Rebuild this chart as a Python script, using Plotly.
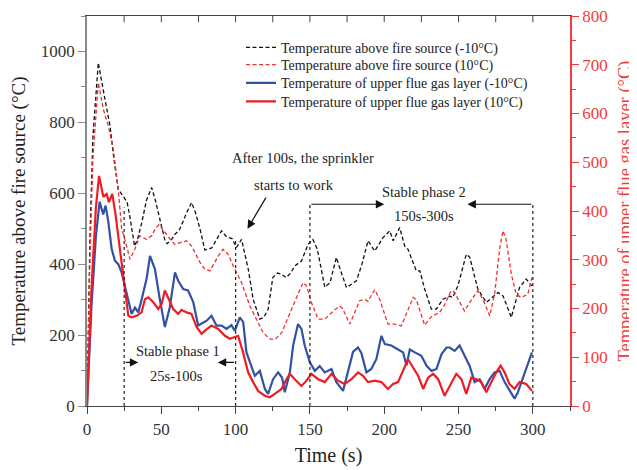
import plotly.graph_objects as go

# ---------------- data ----------------
# Temperature above fire source (-10°C), left axis (°C)
t_above_m10 = [0, 2, 4, 7.6, 12.1, 15.5, 18, 21, 23, 25.5, 27, 29, 32, 34, 37, 40, 43.5, 46, 49, 52.5, 54, 57,
               59, 62, 64.6, 67, 70.4, 73, 76, 79.3, 84, 87, 90.5, 94, 97.6, 100.6, 104, 108.5, 111.8, 116.3,
               119, 121.9, 125, 128, 130.8, 134, 137, 139.8, 144.3, 148.8, 152, 155, 160, 163.5, 167.8, 170,
               174.6, 181.3, 185, 189.1, 193.6, 199.2, 203.7, 206, 210.4, 213.8, 216, 221.6, 224, 227.2, 231.7,
               235, 239.5, 244, 246, 249.6, 255.2, 257.5, 263, 268.7, 272, 276.5, 280, 285.5, 291, 295.5, 299.4]
v_above_m10 = [0, 480, 760, 968, 865, 790, 700, 611, 600, 585, 575, 530, 451, 470, 520, 580, 616, 580, 527, 466,
               458, 470, 484, 495, 520, 545, 574, 545, 500, 440, 446, 470, 494, 477, 472, 447, 470, 386, 301, 245,
               250, 273, 362, 375, 372, 362, 375, 395, 409, 456, 470, 442, 335, 348, 419, 390, 334, 353, 400, 466,
               437, 475, 494, 466, 503, 451, 442, 381, 381, 330, 273, 273, 301, 310, 306, 339, 428, 420, 330, 292,
               305, 320, 310, 250, 334, 358, 339]

# Temperature above fire source (10°C), left axis (°C)
t_above_p10 = [0, 2, 4, 7.6, 11, 14.3, 17.7, 21, 23.3, 25.5, 28.9, 32, 35.5, 40, 43.5, 46, 48.5, 52.5, 56, 59,
               63, 67, 70.4, 76, 79.3, 82.7, 88.3, 91.6, 95, 98.4, 104, 109.6, 114, 118.5, 123, 126.4, 131, 136.5,
               142, 145.4, 147.6, 151, 155.5, 160, 165, 170, 172, 176.8, 183.5, 186.8, 189, 193.6, 197, 202.5,
               207, 211.5, 219.4, 221.6, 227.2, 231.7, 237.3, 240.6, 245, 247, 254, 259.7, 263, 266.5, 271,
               274.4, 277.6, 279.9, 282, 285.5, 288.8, 292, 296.6, 299.4]
v_above_p10 = [0, 420, 700, 912, 837, 790, 724, 611, 500, 470, 414, 440, 480, 470, 480, 500, 512, 489, 470, 456,
               460, 466, 451, 405, 386, 381, 423, 442, 428, 395, 348, 282, 245, 207, 189, 187, 207, 264, 316, 348,
               340, 292, 245, 245, 265, 282, 275, 231, 297, 301, 295, 328, 300, 231, 231, 226, 306, 300, 228, 252,
               264, 285, 325, 322, 268, 306, 325, 300, 254, 320, 442, 494, 470, 372, 315, 306, 315, 362]

# Temperature of upper flue gas layer (-10°C), right axis (°C)
t_flue_m10 = [0, 3, 6, 8.5, 10.9, 12.5, 14.3, 15.5, 16.6, 18.8, 21, 23.3, 25.5, 27.8, 30, 32.3, 34.5, 36.8, 40.1,
              42.4, 45.7, 49, 52.4, 55.7, 59.2, 61.4, 64.7, 68, 71.5, 74.8, 78.2, 80.5, 83.8, 87.1, 90.5, 93.9,
              97.2, 99.5, 102.8, 105.1, 107.3, 110.7, 112.9, 116.3, 119.7, 121.9, 125.2, 128.6, 131.3, 133.1,
              136.5, 138.7, 142, 144.3, 146.5, 149.9, 153.3, 156.6, 160, 164.5, 167.8, 172.3, 175.7, 179, 182.3,
              184.6, 188, 191.3, 194.7, 198.1, 200.4, 204.8, 209.3, 212.7, 215, 217.2, 220.6, 225, 228.4, 231.8,
              235.2, 238.5, 241.9, 244, 247.4, 250.7, 254.1, 257.5, 260.8, 264.2, 267.5, 270.9, 274.2, 277.6,
              281, 284.3, 287.7, 289.9, 293.3, 296.5, 299.4]
v_flue_m10 = [0, 204, 349, 419, 393, 411, 379, 349, 322, 298, 291, 274, 247, 219, 189, 202, 192, 219, 261, 308,
              281, 219, 162, 202, 274, 257, 240, 237, 213, 165, 171, 175, 185, 165, 165, 158, 166, 154, 182, 172,
              110, 83, 62, 72, 35, 25, 55, 69, 58, 28, 69, 124, 168, 158, 124, 90, 72, 82, 69, 76, 49, 31, 69,
              111, 120, 109, 69, 76, 96, 144, 127, 124, 116, 110, 83, 116, 110, 103, 83, 72, 76, 106, 120, 120,
              113, 124, 103, 82, 49, 55, 35, 55, 69, 72, 49, 31, 15, 28, 58, 84, 110]

# Temperature of upper flue gas layer (10°C), right axis (°C)
t_flue_p10 = [0, 3, 6, 8.1, 11, 13.2, 14.7, 17, 19.2, 21, 23.3, 25.5, 27.8, 30, 33.4, 36.7, 39, 41.2, 44.6, 47.9,
              50.2, 52.4, 55.7, 58, 61.3, 63.6, 67, 70.3, 73.7, 77.1, 80.4, 83.8, 88.3, 92.8, 96.1, 99.5, 101.7,
              105, 108.4, 111.8, 115.1, 119.6, 123, 126.4, 130.9, 134.2, 136.5, 139.8, 144.3, 147.7, 151, 155.5,
              160, 164.5, 169, 173.4, 177.9, 182.4, 185.7, 189.1, 193.6, 198.1, 202.5, 206, 209.3, 212.6, 216,
              219.4, 222.8, 226.2, 229.5, 232.9, 236.3, 240.6, 244, 248.5, 251.9, 255.2, 258.6, 262, 265.3,
              268.7, 272.1, 275.4, 278.3, 281, 284.3, 287.7, 291, 295.5, 299.4]
v_flue_p10 = [0, 240, 408, 472, 429, 435, 418, 435, 393, 349, 295, 247, 185, 182, 185, 192, 219, 223, 213, 199,
              209, 237, 213, 199, 189, 197, 192, 189, 162, 148, 157, 165, 158, 144, 138, 141, 144, 110, 69, 49,
              31, 21, 18, 25, 35, 55, 66, 55, 41, 52, 66, 55, 49, 66, 52, 45, 55, 69, 62, 49, 52, 49, 35, 45,
              49, 72, 96, 79, 62, 35, 58, 66, 55, 21, 41, 66, 55, 25, 58, 55, 49, 28, 49, 69, 83, 69, 45, 35,
              49, 45, 31]

series_names = ["Temperature above fire source (-10°C)",
                "Temperature above fire source (10°C)",
                "Temperature of upper flue gas layer (-10°C)",
                "Temperature of upper flue gas layer (10°C)"]

phase1 = [25, 100]
phase2 = [150, 300]

# ---------------- figure ----------------
FONT = "Liberation Serif"
fig = go.Figure()

legend_ids = ["legend", "legend2", "legend3", "legend4"]
styles = [dict(color="#111111", width=1.3, dash="4px,2.5px"),
          dict(color="#f23030", width=1.3, dash="4px,2.5px"),
          dict(color="#3452a4", width=2.2),
          dict(color="#ee1c24", width=2.2)]
xs = [t_above_m10, t_above_p10, t_flue_m10, t_flue_p10]
ys = [v_above_m10, v_above_p10, v_flue_m10, v_flue_p10]
yaxes = ["y", "y", "y2", "y2"]
for i in range(4):
    fig.add_trace(go.Scatter(x=xs[i], y=ys[i], name=series_names[i], mode="lines",
                             line=styles[i], yaxis=yaxes[i], legend=legend_ids[i]))

# vertical phase boundary lines
for xv, ytop in [(phase1[0], 560), (phase1[1], 470), (phase2[0], 572), (phase2[1], 572)]:
    fig.add_shape(type="line", xref="x", yref="y", x0=xv, x1=xv, y0=0, y1=ytop,
                  line=dict(color="#222222", width=1.2, dash="dot"))

# top frame with inward ticks
for xt in range(25, 325, 25):
    fig.add_shape(type="line", xref="x", yref="paper", x0=xt, x1=xt, y0=1, y1=0.984,
                  line=dict(color="#444444", width=1))

txt = dict(family=FONT, size=14.5, color="#222222")
arrow = dict(showarrow=True, arrowhead=2, arrowsize=1.4, arrowwidth=1.2, arrowcolor="#111111",
             axref="x", ayref="y", xref="x", yref="y", text="")

# Stable phase 1
fig.add_annotation(x=61, y=156, text="Stable phase 1", showarrow=False, font=txt, xref="x", yref="y")
fig.add_annotation(x=60, y=85, text="25s-100s", showarrow=False, font=txt, xref="x", yref="y")
fig.add_annotation(x=34.5, y=123, ax=phase1[0], ay=123, **arrow)
fig.add_annotation(x=88, y=123, ax=phase1[1], ay=123, **arrow)

# Stable phase 2
fig.add_annotation(x=227, y=603, text="Stable phase 2", showarrow=False, font=txt, xref="x", yref="y")
fig.add_annotation(x=227, y=536, text="150s-300s", showarrow=False, font=txt, xref="x", yref="y")
fig.add_annotation(x=200, y=569, ax=phase2[0], ay=569, **arrow)
fig.add_annotation(x=256, y=569, ax=phase2[1], ay=569, **arrow)

# Sprinkler
fig.add_annotation(x=145.5, y=699, text="After 100s, the sprinkler", showarrow=False, font=txt,
                   xref="x", yref="y")
fig.add_annotation(x=139, y=624, text="starts to work", showarrow=False, font=txt, xref="x", yref="y")
fig.add_annotation(x=108, y=500, ax=121, ay=592, **arrow)

tickfont = dict(family=FONT, size=17, color="#333333")
red = "#f23c3c"

# legends, one row each (row centres in screen px, plot area spans 16..406)
row_px = [47.7, 65, 83.3, 101.7]
legend_layout = {}
for lid, ypx in zip(legend_ids, row_px):
    legend_layout[lid] = dict(x=(241 - 87) / 483, y=(406 - ypx) / 390, xanchor="left", yanchor="middle",
                              bgcolor="rgba(0,0,0,0)", borderwidth=0,
                              font=dict(family=FONT, size=14, color="#222222"), itemwidth=30)

# page body has an 8px margin: figure is 629x462 so it fits a 637x470 window
fig.update_layout(
    width=629, height=462,
    margin=dict(l=79, r=67, t=8, b=64, autoexpand=False),
    paper_bgcolor="white", plot_bgcolor="white",
    font=dict(family=FONT, color="#222222"),
    showlegend=True,
    **legend_layout,
    xaxis=dict(range=[0, 325], dtick=50, tick0=0, ticks="outside", ticklen=7, tickwidth=1,
               tickcolor="#444444", showline=True, linecolor="#444444", linewidth=1.2, mirror=True,
               showgrid=False, zeroline=False, tickfont=tickfont, automargin=False,
               minor=dict(dtick=25, ticks="outside", ticklen=4, tickcolor="#444444"),
               title=dict(text="Time (s)", font=dict(family=FONT, size=20, color="#222222"), standoff=10)),
    yaxis=dict(range=[0, 1100], dtick=200, tick0=0, ticks="outside", ticklen=7, tickcolor="#888888",
               showline=True, linecolor="#888888", linewidth=1.5, showgrid=False, zeroline=False,
               tickfont=tickfont, automargin=False, ticklabeloverflow="allow",
               minor=dict(dtick=100, ticks="outside", ticklen=4, tickcolor="#888888"),
               title=dict(text="Temperature above fire source (°C)",
                          font=dict(family=FONT, size=19, color="#222222"), standoff=15)),
    yaxis2=dict(range=[0, 800], dtick=100, tick0=0, overlaying="y", side="right", ticks="outside",
                ticklen=7, tickcolor=red, showline=True, linecolor=red, linewidth=1.5,
                showgrid=False, zeroline=False, automargin=False, ticklabeloverflow="allow",
                tickfont=dict(family=FONT, size=17, color=red),
                minor=dict(dtick=50, ticks="outside", ticklen=4, tickcolor=red),
                title=dict(text="Temperature of upper flue gas layer (°C)",
                           font=dict(family=FONT, size=18.5, color=red), standoff=11)),
)

fig.write_html("out.html")
